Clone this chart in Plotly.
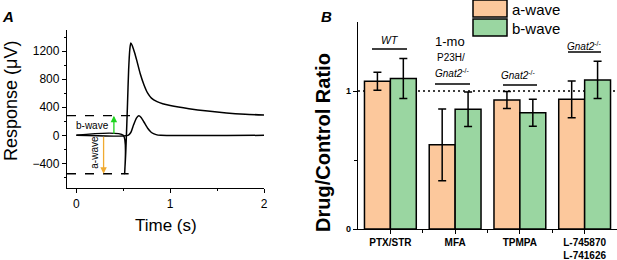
import plotly.graph_objects as go

# ---------------- Panel A data (ERG traces) ----------------
t_big = [0, 0.50, 0.515, 0.53, 0.545, 0.557, 0.57, 0.58, 0.595, 0.62, 0.645, 0.68, 0.72, 0.76, 0.80, 0.86, 0.92, 1.0, 1.2, 1.4, 1.6, 1.8, 2.0]
v_big = [0, 0, -547, -120, 450, 930, 1230, 1315, 1280, 1180, 1060, 880, 720, 600, 530, 480, 450, 425, 380, 345, 318, 300, 290]
t_small = [0, 0.55, 0.58, 0.61, 0.64, 0.665, 0.69, 0.72, 0.76, 0.80, 0.85, 0.90, 2.0]
v_small = [0, 0, 40, 150, 245, 278, 255, 190, 100, 40, 10, 0, 0]
b_wave_amp = 280
a_wave_amp = -547

# ---------------- Panel B data ----------------
categories = ["PTX/STR", "MFA", "TPMPA", "L-745870<br>L-741626"]
a_wave = [1.07, 0.61, 0.935, 0.94]
a_err = [0.065, 0.26, 0.062, 0.133]
b_wave = [1.09, 0.868, 0.842, 1.08]
b_err = [0.145, 0.125, 0.098, 0.135]
group_labels = ["<i>WT</i>", "1-mo", "P23H/", "<i>Gnat2</i><sup>-/-</sup>",
                "<i>Gnat2</i><sup>-/-</sup>", "<i>Gnat2</i><sup>-/-</sup>"]

ORANGE = "#FCC89C"
GREEN = "#9AD6A1"
FONT = "Liberation Sans, Arial, sans-serif"
W, H = 617, 260

def px(x):
    return x / W

def py(y):
    return 1 - y / H

fig = go.Figure()

fig.add_trace(go.Scatter(x=t_big, y=v_big, mode="lines", line=dict(color="black", width=1.5, shape="spline", smoothing=0.6),
                         xaxis="x", yaxis="y", showlegend=False, hoverinfo="skip"))
fig.add_trace(go.Scatter(x=t_small, y=v_small, mode="lines", line=dict(color="black", width=1.5, shape="spline", smoothing=0.6),
                         xaxis="x", yaxis="y", showlegend=False, hoverinfo="skip"))

xpos = list(range(len(categories)))
fig.add_trace(go.Bar(x=xpos, y=a_wave, name="a-wave", marker=dict(color=ORANGE, line=dict(color="black", width=1.5)),
                     error_y=dict(type="data", array=a_err, color="black", thickness=1.5, width=4),
                     xaxis="x2", yaxis="y2", showlegend=False))
fig.add_trace(go.Bar(x=xpos, y=b_wave, name="b-wave", marker=dict(color=GREEN, line=dict(color="black", width=1.5)),
                     error_y=dict(type="data", array=b_err, color="black", thickness=1.5, width=4),
                     xaxis="x2", yaxis="y2", showlegend=False))

shapes = []
annotations = []

def note(**kw):
    kw.setdefault("xanchor", "center")
    kw.setdefault("yanchor", "middle")
    kw.setdefault("showarrow", False)
    annotations.append(kw)

# Panel A dashed reference lines
shapes.append(dict(type="line", xref="x", yref="y", x0=-0.1, x1=0.66, y0=b_wave_amp, y1=b_wave_amp,
                   line=dict(color="black", width=1.3, dash="dash")))
shapes.append(dict(type="line", xref="x", yref="y", x0=-0.1, x1=0.557, y0=a_wave_amp, y1=a_wave_amp,
                   line=dict(color="black", width=1.3, dash="dash")))
# arrows
annotations.append(dict(x=0.40, y=b_wave_amp, ax=0.40, ay=0, xref="x", yref="y", axref="x", ayref="y", text="",
                        showarrow=True, arrowhead=2, arrowsize=1, arrowwidth=1.3, arrowcolor="#1ED41E", standoff=0))
annotations.append(dict(x=0.29, y=a_wave_amp, ax=0.29, ay=0, xref="x", yref="y", axref="x", ayref="y", text="",
                        showarrow=True, arrowhead=2, arrowsize=1, arrowwidth=1.3, arrowcolor="#F0AA30", standoff=0))
note(x=0.176, y=143, xref="x", yref="y", text="b-wave", font=dict(size=10, color="black", family=FONT))
note(x=0.184, y=-238, xref="x", yref="y", text="a-wave", textangle=-90, font=dict(size=10, color="black", family=FONT))

# Panel titles / axis titles
note(x=px(8), y=py(16), xref="paper", yref="paper", text="<b><i>A</i></b>", font=dict(size=15, family=FONT, color="black"))
note(x=px(326), y=py(17), xref="paper", yref="paper", text="<b><i>B</i></b>", font=dict(size=15, family=FONT, color="black"))
note(x=px(11), y=py(101), xref="paper", yref="paper", text="Response (μV)", textangle=-90,
     font=dict(size=18, family=FONT, color="black"))
note(x=px(166), y=py(225), xref="paper", yref="paper", text="Time (s)", font=dict(size=17, family=FONT, color="black"))
note(x=px(323), y=py(143), xref="paper", yref="paper", text="<b>Drug/Control Ratio</b>", textangle=-90,
     font=dict(size=20, family=FONT, color="black"))

# Panel B reference line at 1
shapes.append(dict(type="line", xref="x2", yref="y2", x0=-0.5, x1=3.5, y0=1, y1=1, layer="below",
                   line=dict(color="black", width=1.7, dash="2px,3px")))

# Group labels and underlines (px positions)
lab_pos = [(390, 40, 10.5), (450, 42, 13), (451, 58, 10), (452, 73, 10), (518, 75, 10), (584, 46, 10)]
line_pos = [(372, 407, 49), (435, 470, 84), (503, 537, 85), (568, 601, 52)]
for (gx, gy, fs), txt in zip(lab_pos, group_labels):
    note(x=px(gx), y=py(gy), xref="paper", yref="paper", text=txt, font=dict(size=fs, family=FONT, color="black"))
for x0, x1, yy in line_pos:
    shapes.append(dict(type="line", xref="paper", yref="paper", x0=px(x0), x1=px(x1), y0=py(yy), y1=py(yy),
                       line=dict(color="black", width=1.5)))

# Custom legend
for (y0, y1, col, name, ty) in [(0, 17, ORANGE, "a-wave", 10), (19, 36, GREEN, "b-wave", 28)]:
    shapes.append(dict(type="rect", xref="paper", yref="paper", x0=px(473), x1=px(507), y0=py(y1), y1=py(y0),
                       fillcolor=col, line=dict(color="black", width=1.5)))
    note(x=px(510), y=py(ty), xref="paper", yref="paper", text=name, xanchor="left",
         font=dict(size=15, family=FONT, color="black"))

axis_common = dict(showline=True, linecolor="black", linewidth=1.3, ticks="outside", tickcolor="black",
                   ticklen=4, tickwidth=1.2, showgrid=False, zeroline=False, automargin=False)

fig.update_layout(
    width=W, height=H,
    margin=dict(l=0, r=0, t=0, b=0),
    paper_bgcolor="white", plot_bgcolor="white",
    barmode="group", bargap=0.2, bargroupgap=0,
    font=dict(family=FONT, color="black"),
    shapes=shapes, annotations=annotations,
    xaxis=dict(domain=[px(67), px(264)], range=[-0.1, 2.0], tickvals=[0, 1, 2], anchor="y",
               tickfont=dict(size=12), minor=dict(tickvals=[0.5, 1.5], ticklen=2, ticks="outside", tickcolor="black"),
               **axis_common),
    yaxis=dict(domain=[py(188), py(30)], range=[-750, 1500], tickvals=[-400, 0, 400, 800, 1200], anchor="x",
               tickfont=dict(size=12), minor=dict(dtick=200, tick0=0, ticklen=2, ticks="outside", tickcolor="black"),
               **axis_common),
    xaxis2=dict(domain=[px(358), 1.0], range=[-0.5, 3.5], tickvals=xpos, ticktext=[f"<b>{c}</b>" for c in categories],
                anchor="y2", tickfont=dict(size=10),
                minor=dict(tickvals=[0.5, 1.5, 2.5], ticklen=3, ticks="outside", tickcolor="black"),
                **axis_common),
    yaxis2=dict(domain=[py(229), py(22)], range=[0, 1.5], tickvals=[0, 1], ticktext=["<b>0</b>", "<b>1</b>"],
                anchor="x2", tickfont=dict(size=9),
                minor=dict(tickvals=[0.5], ticklen=3, ticks="outside", tickcolor="black"),
                **axis_common),
)

fig.write_html("out.html", config={"displayModeBar": False},
               post_script="document.body.style.margin='0';document.body.style.overflow='hidden';")
